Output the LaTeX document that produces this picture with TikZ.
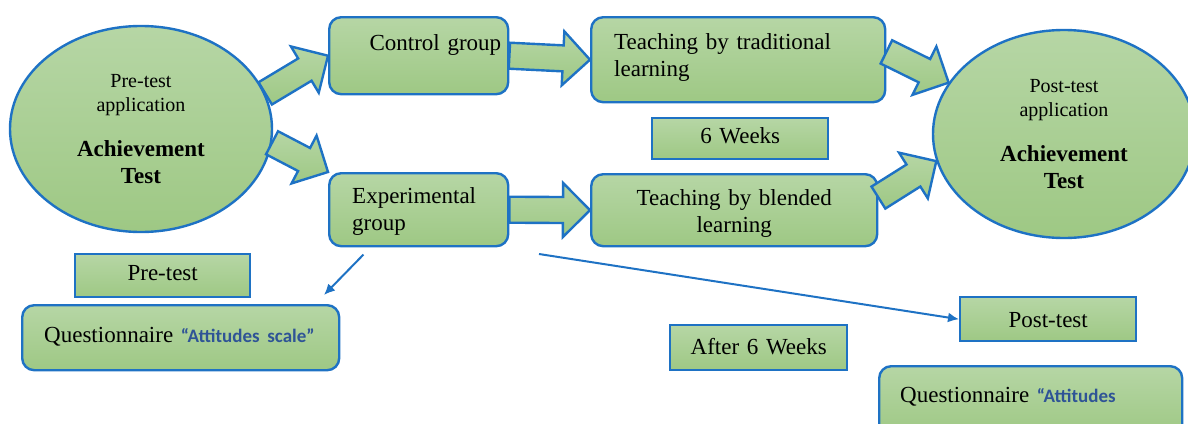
\documentclass[tikz,border=0pt]{standalone}
\usepackage{fontspec}
\setmainfont{Liberation Serif}
\newfontfamily\calibfont{Carlito}
\usepackage{tikz}
\usetikzlibrary{arrows.meta,calc,shapes.geometric}

\definecolor{boxline}{RGB}{30,114,196}
\definecolor{boxtop}{RGB}{182,214,165}
\definecolor{boxbot}{RGB}{158,200,132}
\definecolor{attblue}{RGB}{47,84,150}

\newcommand{\att}[1]{{\calibfont\bfseries\fontsize{9.5}{11}\selectfont\color{attblue}#1}}

\newcommand{\fatarrow}[3]{% name, from, to
  \coordinate (#1) at ($(#3)!13.5pt!(#2)$);
  \filldraw[fatarr] ($(#2)!6.5pt!90:(#3)$) -- ($(#1)!6.5pt!90:(#3)$)
    -- ($(#1)!13.5pt!90:(#3)$) -- (#3) -- ($(#1)!13.5pt!-90:(#3)$)
    -- ($(#1)!6.5pt!-90:(#3)$) -- ($(#2)!6.5pt!-90:(#3)$) -- cycle;}

\tikzset{
  box/.style={draw=boxline, line width=1.2pt, top color=boxtop, bottom color=boxbot,
    anchor=north west, inner ysep=0pt, font=\fontsize{11.5}{13.5}\selectfont},
  rbox/.style={box, rounded corners=6pt},
  oval/.style={ellipse, draw=boxline, line width=1.2pt, top color=boxtop, bottom color=boxbot,
    inner sep=0pt, align=center, font=\fontsize{10}{12}\selectfont},
  fatarr/.style={draw=boxline, line width=1.2pt, top color=boxtop, bottom color=boxbot,
    line join=miter},
  conn/.style={draw=boxline, line width=1pt, -{Latex[length=5.5pt,width=5pt]}},
}

\begin{document}
\begin{tikzpicture}[x=0.5pt, y=-0.5pt]

\useasboundingbox (0,0) rectangle (1188,423);

% the two tests
\node[oval, minimum width=131pt, minimum height=103pt] (preach) at (141,129)
  {Pre-test\\application\\[10.5pt]{\bfseries\fontsize{11.5}{13.5}\selectfont Achievement}\\[1.5pt]{\bfseries\fontsize{11.5}{13.5}\selectfont Test}};
\node[oval, minimum width=131pt, minimum height=104pt] (postach) at (1064,134)
  {Post-test\\application\\[10.5pt]{\bfseries\fontsize{11.5}{13.5}\selectfont Achievement}\\[1.5pt]{\bfseries\fontsize{11.5}{13.5}\selectfont Test}};

% groups and teaching
\node[rbox, text width=82.5pt, inner xsep=3.5pt, align=right, text height=16.5pt, text depth=22pt] (ctrl) at (328,16) {Control group};
\node[rbox, text width=124pt, inner xsep=11.5pt, align=left, text height=16pt, text depth=26.5pt] (trad) at (590,16) {Teaching by traditional learning};
\node[box, text width=88pt, inner xsep=0pt, align=center, text height=12.5pt, text depth=8pt] (sixwk) at (651,117) {6 Weeks};
\node[rbox, text width=66.5pt, inner xsep=11.5pt, align=left, text height=15pt, text depth=21.5pt] (exp) at (328,172) {Experimental group};
\node[rbox, text width=143pt, inner xsep=0pt, align=center, text height=15.5pt, text depth=20.5pt] (blend) at (590,173) {Teaching by blended\\learning};

% lower row
\node[box, text width=87.5pt, inner xsep=0pt, align=center, text height=13pt, text depth=8.5pt] (pre) at (74,253) {Pre-test};
\node[rbox, text width=136.5pt, inner xsep=11pt, align=left, text height=18.5pt, text depth=14pt] (qL) at (21,304) {Questionnaire \att{“Attitudes scale”}};
\node[box, text width=88pt, inner xsep=0pt, align=center, text height=15pt, text depth=7pt] (post) at (959,296) {Post-test};
\node[box, text width=88.5pt, inner xsep=0pt, align=center, text height=14.5pt, text depth=8pt] (after) at (669,324) {After 6 Weeks};
\node[rbox, text width=130.5pt, inner xsep=10.5pt, align=left, text height=18pt, text depth=17pt] (qR) at (878,365) {Questionnaire \att{“Attitudes}};

% block arrows
\fatarrow{a1}{preach.16}{ctrl.west}
\fatarrow{a2}{preach.-6}{exp.north west}
\fatarrow{a3}{ctrl.east}{trad.west}
\fatarrow{a4}{exp.east}{blend.west}
\fatarrow{a5}{trad.3}{postach.156}
\fatarrow{a6}{blend.5}{postach.192}

% thin arrows
\coordinate (qLtip) at (324,295);
\coordinate (gapstart) at (539,254);
\draw[conn, shorten <=5pt] (exp.218) -- (qLtip);
\draw[conn] (gapstart) -- (post.west);

\end{tikzpicture}
\end{document}
